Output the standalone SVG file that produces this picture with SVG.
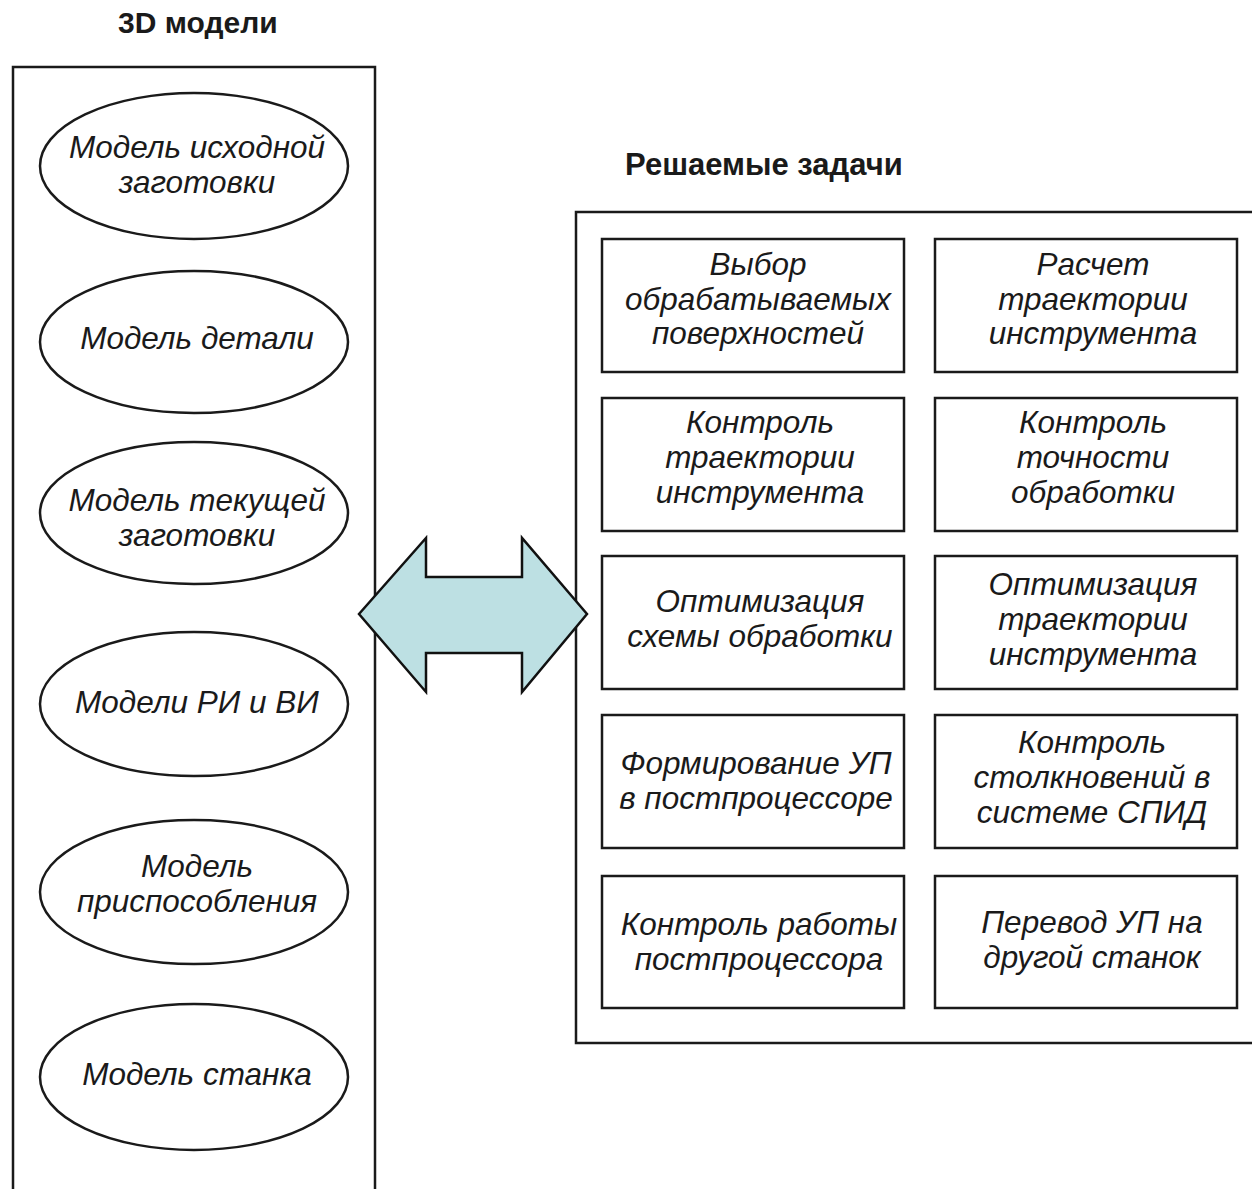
<svg xmlns="http://www.w3.org/2000/svg" width="1252" height="1189" viewBox="0 0 1252 1189">
<style>
.frame{fill:none;stroke:#1a1a1a;stroke-width:2.5}
.node{fill:#fff;stroke:#1a1a1a;stroke-width:2.5}
.t{font-family:"Liberation Sans",Arial,sans-serif;font-style:italic;font-size:31.5px;fill:#1a1a1a;text-anchor:middle}
.h{font-family:"Liberation Sans",Arial,sans-serif;font-weight:bold;font-size:30px;fill:#1a1a1a;text-anchor:start}
</style>
<rect width="1252" height="1189" fill="#fff"/>
<text class="h" x="118" y="33">3D модели</text>
<text class="h" x="625" y="175" style="font-size:31px">Решаемые задачи</text>
<rect class="frame" x="13" y="67" width="362" height="1140"/>
<rect class="frame" x="576" y="212" width="700" height="831"/>

<g id="e1"><ellipse class="node" cx="194" cy="166" rx="154" ry="73"/><text class="t" x="197" y="158">Модель исходной</text><text class="t" x="197" y="193">заготовки</text></g>
<g id="e2"><ellipse class="node" cx="194" cy="342" rx="154" ry="71"/><text class="t" x="197" y="349">Модель детали</text></g>
<g id="e3"><ellipse class="node" cx="194" cy="513" rx="154" ry="71"/><text class="t" x="197" y="511">Модель текущей</text><text class="t" x="197" y="546">заготовки</text></g>
<g id="e4"><ellipse class="node" cx="194" cy="704" rx="154" ry="72"/><text class="t" x="197" y="713">Модели РИ и ВИ</text></g>
<g id="e5"><ellipse class="node" cx="194" cy="892" rx="154" ry="72"/><text class="t" x="197" y="877">Модель</text><text class="t" x="197" y="912">приспособления</text></g>
<g id="e6"><ellipse class="node" cx="194" cy="1077" rx="154" ry="73"/><text class="t" x="197" y="1085">Модель станка</text></g>

<g id="b1"><rect class="node" x="602" y="239" width="302" height="133"/><text class="t" x="758" y="275">Выбор</text><text class="t" x="758" y="310">обрабатываемых</text><text class="t" x="758" y="344">поверхностей</text></g>
<g id="b2"><rect class="node" x="935" y="239" width="302" height="133"/><text class="t" x="1093" y="275">Расчет</text><text class="t" x="1093" y="310">траектории</text><text class="t" x="1093" y="344">инструмента</text></g>
<g id="b3"><rect class="node" x="602" y="398" width="302" height="133"/><text class="t" x="760" y="433">Контроль</text><text class="t" x="760" y="468">траектории</text><text class="t" x="760" y="503">инструмента</text></g>
<g id="b4"><rect class="node" x="935" y="398" width="302" height="133"/><text class="t" x="1093" y="433">Контроль</text><text class="t" x="1093" y="468">точности</text><text class="t" x="1093" y="503">обработки</text></g>
<g id="b5"><rect class="node" x="602" y="556" width="302" height="133"/><text class="t" x="760" y="612">Оптимизация</text><text class="t" x="760" y="647">схемы обработки</text></g>
<g id="b6"><rect class="node" x="935" y="556" width="302" height="133"/><text class="t" x="1093" y="595">Оптимизация</text><text class="t" x="1093" y="630">траектории</text><text class="t" x="1093" y="665">инструмента</text></g>
<g id="b7"><rect class="node" x="602" y="715" width="302" height="133"/><text class="t" x="756" y="774">Формирование УП</text><text class="t" x="756" y="809">в постпроцессоре</text></g>
<g id="b8"><rect class="node" x="935" y="715" width="302" height="133"/><text class="t" x="1092" y="753">Контроль</text><text class="t" x="1092" y="788">столкновений в</text><text class="t" x="1092" y="823">системе СПИД</text></g>
<g id="b9"><rect class="node" x="602" y="876" width="302" height="132"/><text class="t" x="759" y="935">Контроль работы</text><text class="t" x="759" y="970">постпроцессора</text></g>
<g id="b10"><rect class="node" x="935" y="876" width="302" height="132"/><text class="t" x="1092" y="933">Перевод УП на</text><text class="t" x="1092" y="968">другой станок</text></g>

<g id="connectors">
<polygon points="359,614 426,538 426,577 522,577 522,538 587,614 522,692 522,653 426,653 426,692" fill="#bde0e3" stroke="#111" stroke-width="2.5" stroke-linejoin="miter"/>
</g>
</svg>
